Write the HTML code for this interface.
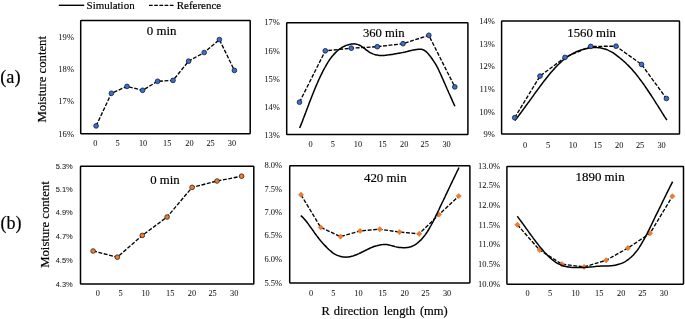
<!DOCTYPE html>
<html lang="en"><head><meta charset="utf-8"><title>Moisture content: simulation vs reference</title>
<style>html,body{margin:0;padding:0;background:#fff;}body{width:685px;height:319px;overflow:hidden;}svg{display:block;}text{fill:#000;stroke:#000;stroke-width:0.18px;}text.t{stroke-width:0.04px;fill:#151515;stroke:#151515;}</style>
</head><body>
<svg width="685" height="319" viewBox="0 0 685 319">
<rect x="0" y="0" width="685" height="319" fill="#fff"/>
<line x1="58.8" y1="5.3" x2="84.2" y2="5.3" stroke="#000" stroke-width="1.4"/>
<text x="86.60" y="8.90" font-size="10.95" text-anchor="start" font-family='"Liberation Serif", serif' >Simulation</text>
<line x1="149" y1="5.3" x2="175" y2="5.3" stroke="#000" stroke-width="1.3" stroke-dasharray="3.7 1.5"/>
<text x="176.80" y="8.90" font-size="10.95" text-anchor="start" font-family='"Liberation Serif", serif' >Reference</text>
<text x="0.20" y="83.00" font-size="18.30" text-anchor="start" font-family='"Liberation Serif", serif' >(a)</text>
<text x="0.50" y="229.30" font-size="18.00" text-anchor="start" font-family='"Liberation Serif", serif' >(b)</text>
<text transform="translate(45.7,122.6) rotate(-90) scale(0.98 1)" font-size="13.0" text-anchor="start" font-family='"Liberation Serif", serif'>Moisture content</text>
<text transform="translate(48.7,267.8) rotate(-90) scale(0.95 1)" font-size="13.4" text-anchor="start" font-family='"Liberation Serif", serif'>Moisture content</text>
<text transform="translate(321.45 314.75) scale(0.965 1)" font-size="13.00" text-anchor="start" font-family='"Liberation Serif", serif' word-spacing="1.65">R<tspan dx="-0.7"> direction</tspan><tspan dx="0.7"> length (mm)</tspan></text>
<rect x="80.7" y="20.5" width="169.5" height="113.2" rx="0.6" fill="none" stroke="#000" stroke-width="1.5"/>
<text transform="translate(74.00 39.54) scale(1.030 1)" font-size="8.30" text-anchor="end" font-family='"Liberation Serif", serif' class="t">19%</text>
<text transform="translate(74.00 71.64) scale(1.030 1)" font-size="8.30" text-anchor="end" font-family='"Liberation Serif", serif' class="t">18%</text>
<text transform="translate(74.00 104.24) scale(1.030 1)" font-size="8.30" text-anchor="end" font-family='"Liberation Serif", serif' class="t">17%</text>
<text transform="translate(74.00 136.64) scale(1.030 1)" font-size="8.30" text-anchor="end" font-family='"Liberation Serif", serif' class="t">16%</text>
<text x="95.40" y="145.74" font-size="8.30" text-anchor="middle" font-family='"Liberation Serif", serif' class="t">0</text>
<text x="117.70" y="145.74" font-size="8.30" text-anchor="middle" font-family='"Liberation Serif", serif' class="t">5</text>
<text x="143.10" y="145.74" font-size="8.30" text-anchor="middle" font-family='"Liberation Serif", serif' class="t">10</text>
<text x="167.20" y="145.74" font-size="8.30" text-anchor="middle" font-family='"Liberation Serif", serif' class="t">15</text>
<text x="189.50" y="145.74" font-size="8.30" text-anchor="middle" font-family='"Liberation Serif", serif' class="t">20</text>
<text x="210.60" y="145.74" font-size="8.30" text-anchor="middle" font-family='"Liberation Serif", serif' class="t">25</text>
<text x="231.90" y="145.74" font-size="8.30" text-anchor="middle" font-family='"Liberation Serif", serif' class="t">30</text>
<text x="161.60" y="35.00" font-size="12.90" text-anchor="middle" font-family='"Liberation Serif", serif' >0 min</text>
<path d="M96.1 125.9 L111.4 93.3 L127.0 86.4 L142.6 90.3 L157.6 81.3 L173.0 80.4 L188.6 61.2 L204.2 52.5 L219.4 39.6 L234.4 70.4" fill="none" stroke="#000" stroke-width="1.35" stroke-dasharray="3.9 1.6"/>
<circle cx="96.1" cy="125.9" r="2.35" fill="#3d70cc" stroke="#0f1b33" stroke-width="0.8"/>
<circle cx="111.4" cy="93.3" r="2.35" fill="#3d70cc" stroke="#0f1b33" stroke-width="0.8"/>
<circle cx="127.0" cy="86.4" r="2.35" fill="#3d70cc" stroke="#0f1b33" stroke-width="0.8"/>
<circle cx="142.6" cy="90.3" r="2.35" fill="#3d70cc" stroke="#0f1b33" stroke-width="0.8"/>
<circle cx="157.6" cy="81.3" r="2.35" fill="#3d70cc" stroke="#0f1b33" stroke-width="0.8"/>
<circle cx="173.0" cy="80.4" r="2.35" fill="#3d70cc" stroke="#0f1b33" stroke-width="0.8"/>
<circle cx="188.6" cy="61.2" r="2.35" fill="#3d70cc" stroke="#0f1b33" stroke-width="0.8"/>
<circle cx="204.2" cy="52.5" r="2.35" fill="#3d70cc" stroke="#0f1b33" stroke-width="0.8"/>
<circle cx="219.4" cy="39.6" r="2.35" fill="#3d70cc" stroke="#0f1b33" stroke-width="0.8"/>
<circle cx="234.4" cy="70.4" r="2.35" fill="#3d70cc" stroke="#0f1b33" stroke-width="0.8"/>
<rect x="286.7" y="22.8" width="181.2" height="111.7" rx="0.6" fill="none" stroke="#000" stroke-width="1.5"/>
<text transform="translate(279.90 25.44) scale(1.030 1)" font-size="8.30" text-anchor="end" font-family='"Liberation Serif", serif' class="t">17%</text>
<text transform="translate(279.90 53.54) scale(1.030 1)" font-size="8.30" text-anchor="end" font-family='"Liberation Serif", serif' class="t">16%</text>
<text transform="translate(279.90 81.64) scale(1.030 1)" font-size="8.30" text-anchor="end" font-family='"Liberation Serif", serif' class="t">15%</text>
<text transform="translate(279.90 109.74) scale(1.030 1)" font-size="8.30" text-anchor="end" font-family='"Liberation Serif", serif' class="t">14%</text>
<text transform="translate(279.90 137.64) scale(1.030 1)" font-size="8.30" text-anchor="end" font-family='"Liberation Serif", serif' class="t">13%</text>
<text x="310.50" y="147.14" font-size="8.30" text-anchor="middle" font-family='"Liberation Serif", serif' class="t">0</text>
<text x="332.80" y="147.14" font-size="8.30" text-anchor="middle" font-family='"Liberation Serif", serif' class="t">5</text>
<text x="357.90" y="147.14" font-size="8.30" text-anchor="middle" font-family='"Liberation Serif", serif' class="t">10</text>
<text x="382.60" y="147.14" font-size="8.30" text-anchor="middle" font-family='"Liberation Serif", serif' class="t">15</text>
<text x="404.20" y="147.14" font-size="8.30" text-anchor="middle" font-family='"Liberation Serif", serif' class="t">20</text>
<text x="424.70" y="147.14" font-size="8.30" text-anchor="middle" font-family='"Liberation Serif", serif' class="t">25</text>
<text x="446.60" y="147.14" font-size="8.30" text-anchor="middle" font-family='"Liberation Serif", serif' class="t">30</text>
<text transform="translate(383.80 36.75) scale(0.945 1)" font-size="13.40" text-anchor="middle" font-family='"Liberation Serif", serif' >360 min</text>
<path d="M299.7 128.0 C300.0 127.1 301.0 124.7 301.7 123.0 C302.4 121.3 303.0 119.5 303.7 117.8 C304.3 116.1 305.0 114.3 305.7 112.6 C306.3 110.8 307.0 109.1 307.7 107.3 C308.3 105.6 309.0 103.8 309.6 102.1 C310.3 100.4 311.0 98.6 311.6 97.0 C312.3 95.3 313.0 93.6 313.6 92.0 C314.3 90.3 315.0 88.7 315.6 87.1 C316.3 85.5 316.9 84.0 317.6 82.5 C318.3 80.9 318.9 79.5 319.6 78.0 C320.3 76.6 320.9 75.2 321.6 73.8 C322.3 72.5 322.9 71.2 323.6 69.9 C324.2 68.7 324.9 67.4 325.6 66.3 C326.2 65.1 326.9 64.0 327.6 62.9 C328.2 61.8 328.9 60.8 329.5 59.8 C330.2 58.9 330.9 58.0 331.5 57.1 C332.2 56.3 332.9 55.4 333.5 54.7 C334.2 53.9 334.9 53.2 335.5 52.6 C336.2 51.9 336.8 51.3 337.5 50.7 C338.2 50.1 338.8 49.6 339.5 49.1 C340.2 48.6 340.8 48.2 341.5 47.8 C342.1 47.3 342.8 47.0 343.5 46.6 C344.1 46.3 344.8 46.0 345.5 45.7 C346.1 45.4 346.8 45.2 347.5 45.0 C348.1 44.8 348.8 44.6 349.4 44.4 C350.1 44.3 350.8 44.1 351.4 44.0 C352.1 43.9 352.8 43.9 353.4 43.9 C354.1 43.8 354.7 43.9 355.4 44.0 C356.1 44.1 356.7 44.2 357.4 44.4 C358.1 44.6 358.7 44.9 359.4 45.2 C360.1 45.5 360.7 45.9 361.4 46.3 C362.0 46.7 362.7 47.2 363.4 47.7 C364.0 48.2 364.7 48.7 365.4 49.2 C366.0 49.7 366.7 50.3 367.4 50.7 C368.0 51.2 368.7 51.7 369.3 52.1 C370.0 52.5 370.7 52.9 371.3 53.2 C372.0 53.6 372.7 53.9 373.3 54.1 C374.0 54.3 374.6 54.5 375.3 54.7 C376.0 54.9 376.6 55.0 377.3 55.1 C378.0 55.2 378.6 55.3 379.3 55.4 C380.0 55.4 380.6 55.4 381.3 55.4 C381.9 55.4 382.6 55.4 383.3 55.4 C383.9 55.4 384.6 55.3 385.3 55.2 C385.9 55.2 386.6 55.1 387.2 55.0 C387.9 54.9 388.6 54.8 389.2 54.8 C389.9 54.7 390.6 54.6 391.2 54.5 C391.9 54.4 392.6 54.3 393.2 54.2 C393.9 54.1 394.5 54.0 395.2 53.8 C395.9 53.7 396.5 53.6 397.2 53.5 C397.9 53.4 398.5 53.3 399.2 53.2 C399.9 53.0 400.5 52.9 401.2 52.8 C401.8 52.7 402.5 52.5 403.2 52.4 C403.8 52.2 404.5 52.1 405.2 52.0 C405.8 51.8 406.5 51.6 407.1 51.5 C407.8 51.3 408.5 51.2 409.1 51.0 C409.8 50.9 410.5 50.7 411.1 50.5 C411.8 50.4 412.5 50.2 413.1 50.1 C413.8 50.0 414.4 49.8 415.1 49.7 C415.8 49.6 416.4 49.5 417.1 49.4 C417.8 49.3 418.4 49.3 419.1 49.2 C419.7 49.2 420.4 49.2 421.1 49.3 C421.7 49.4 422.4 49.5 423.1 49.8 C423.7 50.0 424.4 50.3 425.1 50.8 C425.7 51.3 426.4 51.8 427.0 52.5 C427.7 53.1 428.4 53.9 429.0 54.7 C429.7 55.5 430.4 56.3 431.0 57.2 C431.7 58.1 432.3 59.1 433.0 60.1 C433.7 61.1 434.3 62.1 435.0 63.2 C435.7 64.3 436.3 65.4 437.0 66.7 C437.7 67.9 438.3 69.3 439.0 70.7 C439.6 72.0 440.3 73.5 441.0 75.0 C441.6 76.5 442.3 78.0 443.0 79.5 C443.6 81.0 444.3 82.5 445.0 84.0 C445.6 85.5 446.3 87.0 446.9 88.5 C447.6 90.0 448.3 91.5 448.9 93.0 C449.6 94.5 450.3 96.0 450.9 97.4 C451.6 98.9 452.2 100.4 452.9 101.9 C453.6 103.3 454.6 105.6 454.9 106.3" fill="none" stroke="#000" stroke-width="1.5" stroke-linecap="butt" stroke-linejoin="round"/>
<path d="M299.5 102.2 L325.3 50.8 L351.3 48.2 L377.3 46.7 L403.0 43.7 L428.8 35.3 L454.8 86.9" fill="none" stroke="#000" stroke-width="1.35" stroke-dasharray="3.9 1.6"/>
<circle cx="299.5" cy="102.2" r="2.35" fill="#3d70cc" stroke="#0f1b33" stroke-width="0.8"/>
<circle cx="325.3" cy="50.8" r="2.35" fill="#3d70cc" stroke="#0f1b33" stroke-width="0.8"/>
<circle cx="351.3" cy="48.2" r="2.35" fill="#3d70cc" stroke="#0f1b33" stroke-width="0.8"/>
<circle cx="377.3" cy="46.7" r="2.35" fill="#3d70cc" stroke="#0f1b33" stroke-width="0.8"/>
<circle cx="403.0" cy="43.7" r="2.35" fill="#3d70cc" stroke="#0f1b33" stroke-width="0.8"/>
<circle cx="428.8" cy="35.3" r="2.35" fill="#3d70cc" stroke="#0f1b33" stroke-width="0.8"/>
<circle cx="454.8" cy="86.9" r="2.35" fill="#3d70cc" stroke="#0f1b33" stroke-width="0.8"/>
<rect x="501.6" y="21.1" width="177.9" height="112.9" rx="0.6" fill="none" stroke="#000" stroke-width="1.5"/>
<text transform="translate(494.80 23.74) scale(1.030 1)" font-size="8.30" text-anchor="end" font-family='"Liberation Serif", serif' class="t">14%</text>
<text transform="translate(494.80 46.54) scale(1.030 1)" font-size="8.30" text-anchor="end" font-family='"Liberation Serif", serif' class="t">13%</text>
<text transform="translate(494.80 69.44) scale(1.030 1)" font-size="8.30" text-anchor="end" font-family='"Liberation Serif", serif' class="t">12%</text>
<text transform="translate(494.80 91.94) scale(1.030 1)" font-size="8.30" text-anchor="end" font-family='"Liberation Serif", serif' class="t">11%</text>
<text transform="translate(494.80 114.74) scale(1.030 1)" font-size="8.30" text-anchor="end" font-family='"Liberation Serif", serif' class="t">10%</text>
<text transform="translate(494.80 136.84) scale(1.030 1)" font-size="8.30" text-anchor="end" font-family='"Liberation Serif", serif' class="t">9%</text>
<text x="525.00" y="148.24" font-size="8.30" text-anchor="middle" font-family='"Liberation Serif", serif' class="t">0</text>
<text x="548.00" y="148.24" font-size="8.30" text-anchor="middle" font-family='"Liberation Serif", serif' class="t">5</text>
<text x="572.90" y="148.24" font-size="8.30" text-anchor="middle" font-family='"Liberation Serif", serif' class="t">10</text>
<text x="597.70" y="148.24" font-size="8.30" text-anchor="middle" font-family='"Liberation Serif", serif' class="t">15</text>
<text x="619.20" y="148.24" font-size="8.30" text-anchor="middle" font-family='"Liberation Serif", serif' class="t">20</text>
<text x="640.10" y="148.24" font-size="8.30" text-anchor="middle" font-family='"Liberation Serif", serif' class="t">25</text>
<text x="661.60" y="148.24" font-size="8.30" text-anchor="middle" font-family='"Liberation Serif", serif' class="t">30</text>
<text transform="translate(591.60 36.75) scale(0.950 1)" font-size="13.50" text-anchor="middle" font-family='"Liberation Serif", serif' >1560 min</text>
<path d="M514.9 120.5 C515.2 120.1 516.2 118.8 516.9 118.0 C517.6 117.1 518.2 116.3 518.9 115.4 C519.6 114.5 520.2 113.6 520.9 112.7 C521.6 111.8 522.2 110.9 522.9 110.0 C523.6 109.1 524.2 108.2 524.9 107.3 C525.6 106.4 526.2 105.4 526.9 104.5 C527.6 103.6 528.2 102.7 528.9 101.8 C529.6 100.8 530.2 99.9 530.9 99.0 C531.6 98.0 532.2 97.1 532.9 96.2 C533.6 95.3 534.2 94.3 534.9 93.4 C535.6 92.5 536.2 91.6 536.9 90.7 C537.6 89.8 538.2 88.9 538.9 88.0 C539.6 87.1 540.2 86.2 540.9 85.3 C541.6 84.4 542.2 83.5 542.9 82.6 C543.6 81.7 544.2 80.9 544.9 80.0 C545.6 79.2 546.2 78.3 546.9 77.5 C547.6 76.7 548.2 75.8 548.9 75.0 C549.6 74.2 550.2 73.4 550.9 72.6 C551.6 71.8 552.2 71.1 552.9 70.3 C553.6 69.6 554.2 68.8 554.9 68.1 C555.6 67.4 556.2 66.7 556.9 66.0 C557.6 65.3 558.2 64.6 558.9 64.0 C559.6 63.3 560.2 62.7 560.9 62.1 C561.6 61.5 562.2 60.9 562.9 60.3 C563.6 59.8 564.2 59.2 564.9 58.7 C565.6 58.2 566.2 57.7 566.9 57.2 C567.6 56.7 568.2 56.3 568.9 55.8 C569.6 55.4 570.2 55.0 570.9 54.6 C571.6 54.2 572.2 53.8 572.9 53.5 C573.6 53.1 574.2 52.8 574.9 52.5 C575.6 52.1 576.2 51.8 576.9 51.5 C577.6 51.3 578.2 51.0 578.9 50.7 C579.6 50.5 580.2 50.2 580.9 50.0 C581.6 49.8 582.2 49.6 582.9 49.4 C583.6 49.2 584.2 49.0 584.9 48.9 C585.6 48.7 586.2 48.5 586.9 48.4 C587.6 48.3 588.2 48.1 588.9 48.0 C589.6 47.9 590.2 47.8 590.9 47.8 C591.6 47.7 592.2 47.6 592.9 47.6 C593.6 47.5 594.2 47.5 594.9 47.5 C595.6 47.5 596.2 47.5 596.9 47.6 C597.6 47.6 598.2 47.6 598.9 47.7 C599.6 47.8 600.2 47.9 600.9 48.0 C601.6 48.1 602.2 48.3 602.9 48.4 C603.6 48.6 604.2 48.8 604.9 49.0 C605.6 49.2 606.2 49.4 606.9 49.7 C607.6 50.0 608.2 50.2 608.9 50.6 C609.6 50.9 610.2 51.2 610.9 51.6 C611.6 51.9 612.2 52.3 612.9 52.7 C613.6 53.2 614.2 53.6 614.9 54.1 C615.6 54.6 616.2 55.1 616.9 55.6 C617.6 56.1 618.2 56.6 618.9 57.2 C619.6 57.7 620.2 58.3 620.9 58.8 C621.6 59.4 622.2 59.9 622.9 60.5 C623.6 61.1 624.2 61.7 624.9 62.3 C625.6 62.9 626.2 63.5 626.9 64.2 C627.6 64.8 628.2 65.5 628.9 66.1 C629.6 66.8 630.2 67.5 630.9 68.2 C631.6 69.0 632.2 69.7 632.9 70.5 C633.6 71.3 634.2 72.0 634.9 72.8 C635.6 73.6 636.2 74.5 636.9 75.3 C637.6 76.1 638.2 77.0 638.9 77.9 C639.6 78.8 640.2 79.6 640.9 80.5 C641.6 81.5 642.2 82.4 642.9 83.3 C643.6 84.2 644.2 85.2 644.9 86.1 C645.6 87.1 646.2 88.1 646.9 89.0 C647.6 90.0 648.2 91.0 648.9 92.0 C649.6 93.0 650.2 94.0 650.9 95.0 C651.6 96.1 652.2 97.1 652.9 98.1 C653.6 99.1 654.2 100.2 654.9 101.2 C655.6 102.3 656.2 103.3 656.9 104.4 C657.6 105.4 658.2 106.5 658.9 107.5 C659.6 108.6 660.2 109.6 660.9 110.7 C661.6 111.8 662.2 112.8 662.9 113.9 C663.6 115.0 664.2 116.0 664.9 117.1 C665.6 118.1 666.6 119.7 666.9 120.2" fill="none" stroke="#000" stroke-width="1.5" stroke-linecap="butt" stroke-linejoin="round"/>
<path d="M514.7 117.7 L540.0 76.1 L565.0 57.4 L590.7 46.4 L616.0 46.2 L641.5 64.4 L666.4 98.5" fill="none" stroke="#000" stroke-width="1.35" stroke-dasharray="3.9 1.6"/>
<circle cx="514.7" cy="117.7" r="2.35" fill="#3d70cc" stroke="#0f1b33" stroke-width="0.8"/>
<circle cx="540.0" cy="76.1" r="2.35" fill="#3d70cc" stroke="#0f1b33" stroke-width="0.8"/>
<circle cx="565.0" cy="57.4" r="2.35" fill="#3d70cc" stroke="#0f1b33" stroke-width="0.8"/>
<circle cx="590.7" cy="46.4" r="2.35" fill="#3d70cc" stroke="#0f1b33" stroke-width="0.8"/>
<circle cx="616.0" cy="46.2" r="2.35" fill="#3d70cc" stroke="#0f1b33" stroke-width="0.8"/>
<circle cx="641.5" cy="64.4" r="2.35" fill="#3d70cc" stroke="#0f1b33" stroke-width="0.8"/>
<circle cx="666.4" cy="98.5" r="2.35" fill="#3d70cc" stroke="#0f1b33" stroke-width="0.8"/>
<rect x="80.5" y="166.2" width="173.3" height="117.9" rx="0.6" fill="none" stroke="#000" stroke-width="1.5"/>
<text x="72.80" y="168.88" font-size="7.50" text-anchor="end" font-family='"Liberation Sans", sans-serif' class="t">5.3%</text>
<text x="72.80" y="191.97" font-size="7.50" text-anchor="end" font-family='"Liberation Sans", sans-serif' class="t">5.1%</text>
<text x="72.80" y="215.38" font-size="7.50" text-anchor="end" font-family='"Liberation Sans", sans-serif' class="t">4.9%</text>
<text x="72.80" y="238.68" font-size="7.50" text-anchor="end" font-family='"Liberation Sans", sans-serif' class="t">4.7%</text>
<text x="72.80" y="262.68" font-size="7.50" text-anchor="end" font-family='"Liberation Sans", sans-serif' class="t">4.5%</text>
<text x="72.80" y="286.57" font-size="7.50" text-anchor="end" font-family='"Liberation Sans", sans-serif' class="t">4.3%</text>
<text x="97.90" y="295.74" font-size="8.30" text-anchor="middle" font-family='"Liberation Serif", serif' class="t">0</text>
<text x="120.50" y="295.74" font-size="8.30" text-anchor="middle" font-family='"Liberation Serif", serif' class="t">5</text>
<text x="145.60" y="295.74" font-size="8.30" text-anchor="middle" font-family='"Liberation Serif", serif' class="t">10</text>
<text x="170.20" y="295.74" font-size="8.30" text-anchor="middle" font-family='"Liberation Serif", serif' class="t">15</text>
<text x="192.00" y="295.74" font-size="8.30" text-anchor="middle" font-family='"Liberation Serif", serif' class="t">20</text>
<text x="212.60" y="295.74" font-size="8.30" text-anchor="middle" font-family='"Liberation Serif", serif' class="t">25</text>
<text x="234.20" y="295.74" font-size="8.30" text-anchor="middle" font-family='"Liberation Serif", serif' class="t">30</text>
<text transform="translate(165.00 184.20) scale(0.970 1)" font-size="13.20" text-anchor="middle" font-family='"Liberation Serif", serif' >0 min</text>
<path d="M93.1 251.0 L117.3 257.2 L142.3 235.4 L167.1 217.0 L192.1 187.4 L217.0 181.0 L241.6 176.2" fill="none" stroke="#000" stroke-width="1.35" stroke-dasharray="3.9 1.6"/>
<circle cx="93.1" cy="251.0" r="2.35" fill="#f07c2c" stroke="#33241a" stroke-width="0.8"/>
<circle cx="117.3" cy="257.2" r="2.35" fill="#f07c2c" stroke="#33241a" stroke-width="0.8"/>
<circle cx="142.3" cy="235.4" r="2.35" fill="#f07c2c" stroke="#33241a" stroke-width="0.8"/>
<circle cx="167.1" cy="217.0" r="2.35" fill="#f07c2c" stroke="#33241a" stroke-width="0.8"/>
<circle cx="192.1" cy="187.4" r="2.35" fill="#f07c2c" stroke="#33241a" stroke-width="0.8"/>
<circle cx="217.0" cy="181.0" r="2.35" fill="#f07c2c" stroke="#33241a" stroke-width="0.8"/>
<circle cx="241.6" cy="176.2" r="2.35" fill="#f07c2c" stroke="#33241a" stroke-width="0.8"/>
<rect x="289.7" y="165.8" width="180.2" height="117.1" rx="0.6" fill="none" stroke="#000" stroke-width="1.5"/>
<text transform="translate(282.20 168.14) scale(1.030 1)" font-size="8.30" text-anchor="end" font-family='"Liberation Serif", serif' class="t">8.0%</text>
<text transform="translate(282.20 191.74) scale(1.030 1)" font-size="8.30" text-anchor="end" font-family='"Liberation Serif", serif' class="t">7.5%</text>
<text transform="translate(282.20 215.14) scale(1.030 1)" font-size="8.30" text-anchor="end" font-family='"Liberation Serif", serif' class="t">7.0%</text>
<text transform="translate(282.20 238.44) scale(1.030 1)" font-size="8.30" text-anchor="end" font-family='"Liberation Serif", serif' class="t">6.5%</text>
<text transform="translate(282.20 261.74) scale(1.030 1)" font-size="8.30" text-anchor="end" font-family='"Liberation Serif", serif' class="t">6.0%</text>
<text transform="translate(282.20 285.54) scale(1.030 1)" font-size="8.30" text-anchor="end" font-family='"Liberation Serif", serif' class="t">5.5%</text>
<text x="311.00" y="295.74" font-size="8.30" text-anchor="middle" font-family='"Liberation Serif", serif' class="t">0</text>
<text x="333.30" y="295.74" font-size="8.30" text-anchor="middle" font-family='"Liberation Serif", serif' class="t">5</text>
<text x="358.40" y="295.74" font-size="8.30" text-anchor="middle" font-family='"Liberation Serif", serif' class="t">10</text>
<text x="382.60" y="295.74" font-size="8.30" text-anchor="middle" font-family='"Liberation Serif", serif' class="t">15</text>
<text x="404.70" y="295.74" font-size="8.30" text-anchor="middle" font-family='"Liberation Serif", serif' class="t">20</text>
<text x="425.50" y="295.74" font-size="8.30" text-anchor="middle" font-family='"Liberation Serif", serif' class="t">25</text>
<text x="447.10" y="295.74" font-size="8.30" text-anchor="middle" font-family='"Liberation Serif", serif' class="t">30</text>
<text transform="translate(385.30 181.60) scale(0.980 1)" font-size="13.20" text-anchor="middle" font-family='"Liberation Serif", serif' >420 min</text>
<path d="M301.0 194.8 L320.7 227.4 L340.5 236.6 L360.1 230.9 L379.8 229.2 L399.5 232.1 L419.2 233.8 L439.0 214.6 L458.7 196.1" fill="none" stroke="#000" stroke-width="1.35" stroke-dasharray="3.9 1.6"/>
<path d="M301.0 192.1 l2.7 2.7 l-2.7 2.7 l-2.7 -2.7 z" fill="#f07c2c" stroke="#b8601f" stroke-width="0.35"/>
<path d="M320.7 224.7 l2.7 2.7 l-2.7 2.7 l-2.7 -2.7 z" fill="#f07c2c" stroke="#b8601f" stroke-width="0.35"/>
<path d="M340.5 233.9 l2.7 2.7 l-2.7 2.7 l-2.7 -2.7 z" fill="#f07c2c" stroke="#b8601f" stroke-width="0.35"/>
<path d="M360.1 228.2 l2.7 2.7 l-2.7 2.7 l-2.7 -2.7 z" fill="#f07c2c" stroke="#b8601f" stroke-width="0.35"/>
<path d="M379.8 226.5 l2.7 2.7 l-2.7 2.7 l-2.7 -2.7 z" fill="#f07c2c" stroke="#b8601f" stroke-width="0.35"/>
<path d="M399.5 229.4 l2.7 2.7 l-2.7 2.7 l-2.7 -2.7 z" fill="#f07c2c" stroke="#b8601f" stroke-width="0.35"/>
<path d="M419.2 231.1 l2.7 2.7 l-2.7 2.7 l-2.7 -2.7 z" fill="#f07c2c" stroke="#b8601f" stroke-width="0.35"/>
<path d="M439.0 211.9 l2.7 2.7 l-2.7 2.7 l-2.7 -2.7 z" fill="#f07c2c" stroke="#b8601f" stroke-width="0.35"/>
<path d="M458.7 193.4 l2.7 2.7 l-2.7 2.7 l-2.7 -2.7 z" fill="#f07c2c" stroke="#b8601f" stroke-width="0.35"/>
<path d="M300.8 215.5 C301.1 215.8 302.1 216.7 302.8 217.4 C303.5 218.0 304.1 218.8 304.8 219.6 C305.5 220.3 306.1 221.2 306.8 222.0 C307.5 222.9 308.1 223.8 308.8 224.7 C309.5 225.6 310.1 226.5 310.8 227.5 C311.5 228.4 312.1 229.4 312.8 230.3 C313.5 231.3 314.2 232.2 314.8 233.2 C315.5 234.1 316.2 235.0 316.8 235.9 C317.5 236.8 318.2 237.6 318.8 238.5 C319.5 239.3 320.2 240.1 320.8 240.9 C321.5 241.7 322.2 242.4 322.8 243.2 C323.5 243.9 324.2 244.7 324.8 245.4 C325.5 246.1 326.2 246.8 326.8 247.5 C327.5 248.2 328.2 248.8 328.8 249.5 C329.5 250.1 330.2 250.7 330.8 251.2 C331.5 251.8 332.2 252.3 332.8 252.8 C333.5 253.2 334.2 253.7 334.8 254.1 C335.5 254.5 336.2 254.8 336.8 255.1 C337.5 255.4 338.2 255.7 338.8 255.9 C339.5 256.2 340.2 256.4 340.9 256.5 C341.5 256.7 342.2 256.8 342.9 256.9 C343.5 257.0 344.2 257.1 344.9 257.1 C345.5 257.2 346.2 257.2 346.9 257.1 C347.5 257.1 348.2 257.0 348.9 256.9 C349.5 256.8 350.2 256.7 350.9 256.5 C351.5 256.4 352.2 256.2 352.9 256.0 C353.5 255.8 354.2 255.6 354.9 255.3 C355.5 255.1 356.2 254.8 356.9 254.5 C357.5 254.2 358.2 253.9 358.9 253.6 C359.5 253.3 360.2 253.0 360.9 252.7 C361.5 252.3 362.2 252.0 362.9 251.7 C363.5 251.3 364.2 251.0 364.9 250.7 C365.5 250.3 366.2 250.0 366.9 249.7 C367.6 249.3 368.2 249.0 368.9 248.7 C369.6 248.4 370.2 248.1 370.9 247.8 C371.6 247.5 372.2 247.3 372.9 247.0 C373.6 246.7 374.2 246.5 374.9 246.3 C375.6 246.1 376.2 245.8 376.9 245.7 C377.6 245.5 378.2 245.3 378.9 245.2 C379.6 245.0 380.2 244.9 380.9 244.8 C381.6 244.7 382.2 244.6 382.9 244.6 C383.6 244.5 384.2 244.5 384.9 244.5 C385.6 244.5 386.2 244.6 386.9 244.6 C387.6 244.7 388.2 244.8 388.9 244.9 C389.6 245.1 390.2 245.2 390.9 245.4 C391.6 245.6 392.2 245.8 392.9 246.0 C393.6 246.2 394.3 246.4 394.9 246.6 C395.6 246.8 396.3 247.0 396.9 247.1 C397.6 247.2 398.3 247.3 398.9 247.4 C399.6 247.5 400.3 247.6 400.9 247.6 C401.6 247.7 402.3 247.7 402.9 247.7 C403.6 247.7 404.3 247.8 404.9 247.7 C405.6 247.7 406.3 247.7 406.9 247.6 C407.6 247.6 408.3 247.5 408.9 247.3 C409.6 247.2 410.3 247.0 410.9 246.8 C411.6 246.5 412.3 246.3 412.9 245.9 C413.6 245.6 414.3 245.3 414.9 244.9 C415.6 244.4 416.3 244.0 416.9 243.5 C417.6 243.0 418.3 242.4 418.9 241.8 C419.6 241.2 420.3 240.6 421.0 239.9 C421.6 239.2 422.3 238.4 423.0 237.6 C423.6 236.8 424.3 236.0 425.0 235.1 C425.6 234.2 426.3 233.2 427.0 232.2 C427.6 231.2 428.3 230.1 429.0 229.0 C429.6 227.9 430.3 226.8 431.0 225.5 C431.6 224.3 432.3 223.1 433.0 221.8 C433.6 220.5 434.3 219.2 435.0 217.8 C435.6 216.5 436.3 215.1 437.0 213.7 C437.6 212.3 438.3 210.9 439.0 209.5 C439.6 208.0 440.3 206.6 441.0 205.2 C441.6 203.8 442.3 202.4 443.0 201.0 C443.6 199.6 444.3 198.2 445.0 196.8 C445.6 195.4 446.3 194.0 447.0 192.6 C447.7 191.2 448.3 189.8 449.0 188.3 C449.7 186.9 450.3 185.5 451.0 184.1 C451.7 182.8 452.3 181.4 453.0 180.0 C453.7 178.6 454.3 177.2 455.0 175.8 C455.7 174.4 456.3 173.0 457.0 171.6 C457.7 170.3 458.7 168.2 459.0 167.5" fill="none" stroke="#000" stroke-width="1.5" stroke-linecap="butt" stroke-linejoin="round"/>
<rect x="506.9" y="166.5" width="176.6" height="117.7" rx="0.6" fill="none" stroke="#000" stroke-width="1.5"/>
<text transform="translate(500.10 168.64) scale(1.030 1)" font-size="8.30" text-anchor="end" font-family='"Liberation Serif", serif' class="t">13.0%</text>
<text transform="translate(500.10 188.24) scale(1.030 1)" font-size="8.30" text-anchor="end" font-family='"Liberation Serif", serif' class="t">12.5%</text>
<text transform="translate(500.10 208.04) scale(1.030 1)" font-size="8.30" text-anchor="end" font-family='"Liberation Serif", serif' class="t">12.0%</text>
<text transform="translate(500.10 227.84) scale(1.030 1)" font-size="8.30" text-anchor="end" font-family='"Liberation Serif", serif' class="t">11.5%</text>
<text transform="translate(500.10 247.14) scale(1.030 1)" font-size="8.30" text-anchor="end" font-family='"Liberation Serif", serif' class="t">11.0%</text>
<text transform="translate(500.10 266.94) scale(1.030 1)" font-size="8.30" text-anchor="end" font-family='"Liberation Serif", serif' class="t">10.5%</text>
<text transform="translate(500.10 286.84) scale(1.030 1)" font-size="8.30" text-anchor="end" font-family='"Liberation Serif", serif' class="t">10.0%</text>
<text x="527.70" y="295.74" font-size="8.30" text-anchor="middle" font-family='"Liberation Serif", serif' class="t">0</text>
<text x="550.00" y="295.74" font-size="8.30" text-anchor="middle" font-family='"Liberation Serif", serif' class="t">5</text>
<text x="575.60" y="295.74" font-size="8.30" text-anchor="middle" font-family='"Liberation Serif", serif' class="t">10</text>
<text x="599.20" y="295.74" font-size="8.30" text-anchor="middle" font-family='"Liberation Serif", serif' class="t">15</text>
<text x="621.20" y="295.74" font-size="8.30" text-anchor="middle" font-family='"Liberation Serif", serif' class="t">20</text>
<text x="642.30" y="295.74" font-size="8.30" text-anchor="middle" font-family='"Liberation Serif", serif' class="t">25</text>
<text x="663.90" y="295.74" font-size="8.30" text-anchor="middle" font-family='"Liberation Serif", serif' class="t">30</text>
<text x="600.10" y="180.75" font-size="12.90" text-anchor="middle" font-family='"Liberation Serif", serif' >1890 min</text>
<path d="M517.4 224.8 L539.6 250.0 L561.9 264.2 L584.1 266.9 L606.1 260.3 L628.0 248.0 L650.1 233.3 L672.4 196.3" fill="none" stroke="#000" stroke-width="1.35" stroke-dasharray="3.9 1.6"/>
<path d="M517.4 222.1 l2.7 2.7 l-2.7 2.7 l-2.7 -2.7 z" fill="#f07c2c" stroke="#b8601f" stroke-width="0.35"/>
<path d="M539.6 247.3 l2.7 2.7 l-2.7 2.7 l-2.7 -2.7 z" fill="#f07c2c" stroke="#b8601f" stroke-width="0.35"/>
<path d="M561.9 261.5 l2.7 2.7 l-2.7 2.7 l-2.7 -2.7 z" fill="#f07c2c" stroke="#b8601f" stroke-width="0.35"/>
<path d="M584.1 264.2 l2.7 2.7 l-2.7 2.7 l-2.7 -2.7 z" fill="#f07c2c" stroke="#b8601f" stroke-width="0.35"/>
<path d="M606.1 257.6 l2.7 2.7 l-2.7 2.7 l-2.7 -2.7 z" fill="#f07c2c" stroke="#b8601f" stroke-width="0.35"/>
<path d="M628.0 245.3 l2.7 2.7 l-2.7 2.7 l-2.7 -2.7 z" fill="#f07c2c" stroke="#b8601f" stroke-width="0.35"/>
<path d="M650.1 230.6 l2.7 2.7 l-2.7 2.7 l-2.7 -2.7 z" fill="#f07c2c" stroke="#b8601f" stroke-width="0.35"/>
<path d="M672.4 193.6 l2.7 2.7 l-2.7 2.7 l-2.7 -2.7 z" fill="#f07c2c" stroke="#b8601f" stroke-width="0.35"/>
<path d="M517.3 216.3 C517.6 216.7 518.6 218.1 519.3 219.0 C520.0 219.8 520.6 220.7 521.3 221.7 C521.9 222.6 522.6 223.5 523.3 224.4 C523.9 225.3 524.6 226.2 525.3 227.1 C525.9 228.1 526.6 229.0 527.3 229.9 C527.9 230.8 528.6 231.7 529.2 232.7 C529.9 233.6 530.6 234.5 531.2 235.4 C531.9 236.3 532.6 237.2 533.2 238.1 C533.9 239.0 534.6 239.9 535.2 240.7 C535.9 241.6 536.5 242.5 537.2 243.3 C537.9 244.2 538.5 245.0 539.2 245.9 C539.9 246.7 540.5 247.5 541.2 248.3 C541.9 249.1 542.5 249.9 543.2 250.6 C543.8 251.4 544.5 252.1 545.2 252.9 C545.8 253.6 546.5 254.3 547.2 255.0 C547.8 255.6 548.5 256.3 549.2 256.9 C549.8 257.6 550.5 258.2 551.1 258.7 C551.8 259.3 552.5 259.9 553.1 260.4 C553.8 260.9 554.5 261.4 555.1 261.9 C555.8 262.3 556.5 262.8 557.1 263.2 C557.8 263.6 558.4 263.9 559.1 264.2 C559.8 264.6 560.4 264.9 561.1 265.1 C561.8 265.4 562.4 265.6 563.1 265.8 C563.8 266.1 564.4 266.2 565.1 266.4 C565.7 266.6 566.4 266.7 567.1 266.8 C567.7 266.9 568.4 267.0 569.1 267.1 C569.7 267.2 570.4 267.3 571.1 267.3 C571.7 267.4 572.4 267.4 573.0 267.5 C573.7 267.5 574.4 267.5 575.0 267.5 C575.7 267.6 576.4 267.6 577.0 267.6 C577.7 267.6 578.4 267.6 579.0 267.6 C579.7 267.6 580.3 267.6 581.0 267.5 C581.7 267.5 582.3 267.5 583.0 267.5 C583.7 267.4 584.3 267.4 585.0 267.4 C585.7 267.3 586.3 267.3 587.0 267.2 C587.6 267.2 588.3 267.1 589.0 267.1 C589.6 267.0 590.3 266.9 591.0 266.9 C591.6 266.8 592.3 266.7 593.0 266.7 C593.6 266.6 594.3 266.5 595.0 266.5 C595.6 266.4 596.3 266.3 596.9 266.3 C597.6 266.3 598.3 266.2 598.9 266.2 C599.6 266.2 600.3 266.1 600.9 266.1 C601.6 266.1 602.3 266.1 602.9 266.1 C603.6 266.1 604.2 266.1 604.9 266.0 C605.6 266.0 606.2 266.0 606.9 266.0 C607.6 266.0 608.2 265.9 608.9 265.9 C609.6 265.9 610.2 265.8 610.9 265.8 C611.5 265.7 612.2 265.6 612.9 265.5 C613.5 265.5 614.2 265.4 614.9 265.2 C615.5 265.1 616.2 265.0 616.9 264.8 C617.5 264.7 618.2 264.5 618.8 264.3 C619.5 264.1 620.2 263.9 620.8 263.6 C621.5 263.4 622.2 263.1 622.8 262.8 C623.5 262.5 624.2 262.1 624.8 261.8 C625.5 261.4 626.1 261.0 626.8 260.5 C627.5 260.1 628.1 259.6 628.8 259.1 C629.5 258.6 630.1 258.0 630.8 257.5 C631.5 256.9 632.1 256.2 632.8 255.5 C633.4 254.8 634.1 254.1 634.8 253.3 C635.4 252.6 636.1 251.7 636.8 250.9 C637.4 250.0 638.1 249.1 638.8 248.1 C639.4 247.1 640.1 246.1 640.7 245.1 C641.4 244.0 642.1 242.9 642.7 241.7 C643.4 240.6 644.1 239.4 644.7 238.2 C645.4 236.9 646.1 235.7 646.7 234.4 C647.4 233.1 648.0 231.7 648.7 230.4 C649.4 229.0 650.0 227.7 650.7 226.3 C651.4 224.9 652.0 223.5 652.7 222.1 C653.4 220.8 654.0 219.4 654.7 218.0 C655.3 216.6 656.0 215.3 656.7 213.9 C657.3 212.6 658.0 211.2 658.7 209.8 C659.3 208.5 660.0 207.1 660.7 205.8 C661.3 204.4 662.0 203.1 662.6 201.7 C663.3 200.4 664.0 199.0 664.6 197.7 C665.3 196.3 666.0 195.0 666.6 193.7 C667.3 192.3 668.0 191.0 668.6 189.6 C669.3 188.3 669.9 187.0 670.6 185.6 C671.3 184.3 672.3 182.3 672.6 181.6" fill="none" stroke="#000" stroke-width="1.5" stroke-linecap="butt" stroke-linejoin="round"/>
</svg>
</body></html>
